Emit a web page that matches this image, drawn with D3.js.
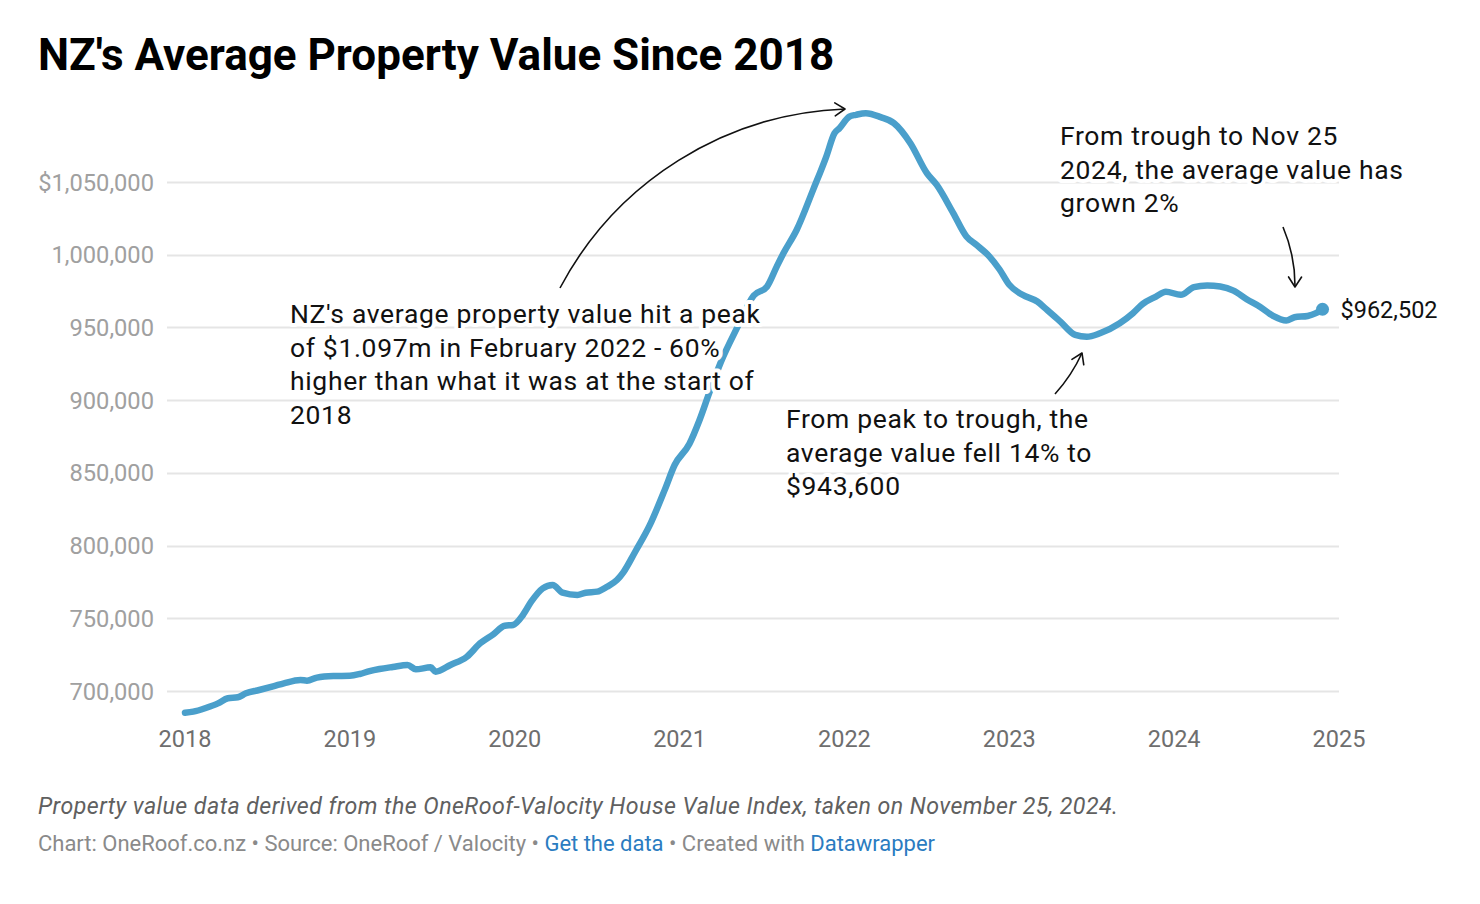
<!DOCTYPE html>
<html>
<head>
<meta charset="utf-8">
<script src="https://cdn.jsdelivr.net/npm/d3@7"></script>
<style>
  html, body { margin: 0; padding: 0; background: #fff; }
  svg { display: block; font-family: Roboto, "Noto Sans", sans-serif; }
</style>
</head>
<body>
<svg id="chart" width="1480" height="904"></svg>
<script>
// ---- DATA ----
const years = [
  2018.00, 2018.05, 2018.13, 2018.20, 2018.26, 2018.32, 2018.37, 2018.45, 2018.54, 2018.60,
  2018.70, 2018.74, 2018.80, 2018.90, 2019.00, 2019.06, 2019.12, 2019.18, 2019.26, 2019.35,
  2019.40, 2019.49, 2019.52, 2019.61, 2019.71, 2019.79, 2019.87, 2019.94, 2019.99, 2020.05,
  2020.10, 2020.17, 2020.23, 2020.29, 2020.38, 2020.43, 2020.50, 2020.56, 2020.62, 2020.66,
  2020.73, 2020.82, 2020.91, 2020.97, 2021.06, 2021.12, 2021.18, 2021.25, 2021.35, 2021.45,
  2021.53, 2021.59, 2021.63, 2021.71, 2021.81, 2021.89, 2021.94, 2021.97, 2022.03, 2022.07,
  2022.13, 2022.22, 2022.30, 2022.40, 2022.50, 2022.56, 2022.66, 2022.74, 2022.80, 2022.88,
  2022.94, 2023.00, 2023.08, 2023.17, 2023.23, 2023.31, 2023.40, 2023.47, 2023.55, 2023.67,
  2023.75, 2023.81, 2023.89, 2023.95, 2024.04, 2024.12, 2024.20, 2024.28, 2024.36, 2024.44,
  2024.52, 2024.60, 2024.68, 2024.73, 2024.81, 2024.86, 2024.90
];
const values = [
  685100, 685800, 688500, 691500, 695000, 695700, 698400, 700700, 703400, 705300,
  707600, 707100, 709200, 710300, 710500, 711700, 713700, 715100, 716500, 717900,
  714900, 716300, 713300, 717900, 723600, 732800, 739000, 744900, 745400, 752300,
  761400, 770600, 772900, 767600, 766000, 767600, 768300, 771700, 776300, 781800,
  795600, 814200, 838300, 855400, 870000, 886000, 905000, 926000, 950000, 972000,
  978000, 992000, 1001000, 1017000, 1044600, 1067500, 1083600, 1087000, 1095000, 1096200,
  1097300, 1094600, 1090500, 1076700, 1056100, 1048000, 1028600, 1012500, 1006800, 998700,
  990000, 979300, 972400, 967800, 962000, 954000, 944900, 943600, 946000, 952900,
  959800, 966200, 971200, 974600, 972400, 977700, 978800, 978100, 975300, 969400,
  964300, 957900, 954700, 957000, 957900, 959800, 962502
];
const yTicks = [700000, 750000, 800000, 850000, 900000, 950000, 1000000, 1050000];
const yTickLabels = ["700,000", "750,000", "800,000", "850,000", "900,000", "950,000", "1,000,000", "$1,050,000"];
const xTicks = [2018, 2019, 2020, 2021, 2022, 2023, 2024, 2025];
const xTickLabels = ["2018", "2019", "2020", "2021", "2022", "2023", "2024", "2025"];

const titleText = "NZ's Average Property Value Since 2018";
const endLabel = "$962,502";
const note1 = ["NZ's average property value hit a peak", "of $1.097m in February 2022 - 60%", "higher than what it was at the start of", "2018"];
const note2 = ["From peak to trough, the", "average value fell 14% to", "$943,600"];
const note3 = ["From trough to Nov 25", "2024, the average value has", "grown 2%"];
const descText = "Property value data derived from the OneRoof-Valocity House Value Index, taken on November 25, 2024.";

// ---- CHART ----
const svg = d3.select("#chart");
const x = d3.scaleLinear().domain([2018, 2025]).range([185, 1339]);
const y = d3.scaleLinear().domain([700000, 1050000]).range([691, 182]);

// spread letters so a text element spans a target width
function fitSpacing(sel, target) {
  const node = sel.node();
  const w = node.getComputedTextLength();
  const n = node.textContent.length;
  const ls = (target - w) / Math.max(1, n - 1);
  sel.attr("letter-spacing", ls.toFixed(3));
  return ls;
}

svg.append("defs").append("marker")
  .attr("id", "chev").attr("viewBox", "-12 -8 14 16")
  .attr("markerWidth", 14).attr("markerHeight", 16)
  .attr("markerUnits", "userSpaceOnUse")
  .attr("refX", 0).attr("refY", 0).attr("orient", "auto")
  .append("path").attr("d", "M-10,-6.5L0,0L-10,6.5")
  .attr("fill", "none").attr("stroke", "#111").attr("stroke-width", 1.6)
  .attr("stroke-linejoin", "round").attr("stroke-linecap", "round");

// title
svg.append("text").attr("x", 38).attr("y", 70)
  .attr("font-size", 44).attr("font-weight", 700).attr("fill", "#000")
  .text(titleText);

// grid + y labels
const gy = svg.append("g");
gy.selectAll("line").data(yTicks).join("line")
  .attr("x1", 167).attr("x2", 1339)
  .attr("y1", d => Math.round(y(d)) + 0.5).attr("y2", d => Math.round(y(d)) + 0.5)
  .attr("stroke", "#e5e5e5").attr("stroke-width", 2);
gy.selectAll("text").data(yTicks).join("text")
  .attr("x", 154).attr("y", d => y(d)).attr("dy", "0.36em")
  .attr("text-anchor", "end").attr("font-size", 23.7).attr("fill", "#a0a0a0")
  .text((d, i) => yTickLabels[i]);

// x labels
svg.append("g").selectAll("text").data(xTicks).join("text")
  .attr("x", d => x(d)).attr("y", 747)
  .attr("text-anchor", "middle").attr("font-size", 23.5).attr("fill", "#6e6e6e")
  .text((d, i) => xTickLabels[i]);

// line
const pts = years.map((t, i) => [t, values[i]]);
const line = d3.line().x(d => x(d[0])).y(d => y(d[1])).curve(d3.curveMonotoneX);
svg.append("path").datum(pts).attr("d", line)
  .attr("fill", "none").attr("stroke", "#4a9fcb").attr("stroke-width", 6.5)
  .attr("stroke-linejoin", "round").attr("stroke-linecap", "round");
const last = pts[pts.length - 1];
svg.append("circle").attr("cx", x(last[0])).attr("cy", y(last[1])).attr("r", 6.5)
  .attr("fill", "#4a9fcb");
svg.append("text").attr("x", x(last[0]) + 18).attr("y", y(last[1])).attr("dy", "0.36em")
  .attr("font-size", 23.5).attr("fill", "#111").text(endLabel);

// annotations
const probe = svg.append("text").attr("font-size", 26.5).text(note1[0]);
const noteLS = fitSpacing(probe, 470);
probe.remove();
function note(lines, x0, y0) {
  const t = svg.append("text").attr("font-size", 26.5).attr("fill", "#111")
    .attr("letter-spacing", noteLS.toFixed(3))
    .attr("stroke", "#fff").attr("stroke-width", 8).attr("stroke-linejoin", "round")
    .attr("paint-order", "stroke");
  lines.forEach((l, i) => t.append("tspan").attr("x", x0).attr("y", y0 + i * 33.7).text(l));
}
note(note1, 290, 323);
note(note2, 786, 428);
note(note3, 1060, 145);

// arrows
const arrows = [
  "M560,288 A337,337 0 0,1 845,109",
  "M1055,394 A160,160 0 0,0 1082,353",
  "M1283,227 A150,150 0 0,1 1295,287"
];
svg.append("g").selectAll("path").data(arrows).join("path")
  .attr("d", d => d).attr("fill", "none").attr("stroke", "#111").attr("stroke-width", 1.6)
  .attr("marker-end", "url(#chev)");

// footer
const desc = svg.append("text").attr("x", 38).attr("y", 814).attr("font-size", 23.2)
  .attr("font-style", "italic").attr("fill", "#606060").text(descText);
fitSpacing(desc, 1080);
const f = svg.append("text").attr("x", 38).attr("y", 851).attr("font-size", 22).attr("fill", "#8a8a8a");
f.append("tspan").text("Chart: OneRoof.co.nz • Source: OneRoof / Valocity • ");
f.append("tspan").attr("fill", "#2b7cc1").text("Get the data");
f.append("tspan").text(" • Created with ");
f.append("tspan").attr("fill", "#2b7cc1").text("Datawrapper");
fitSpacing(f, 897);
</script>
</body>
</html>
